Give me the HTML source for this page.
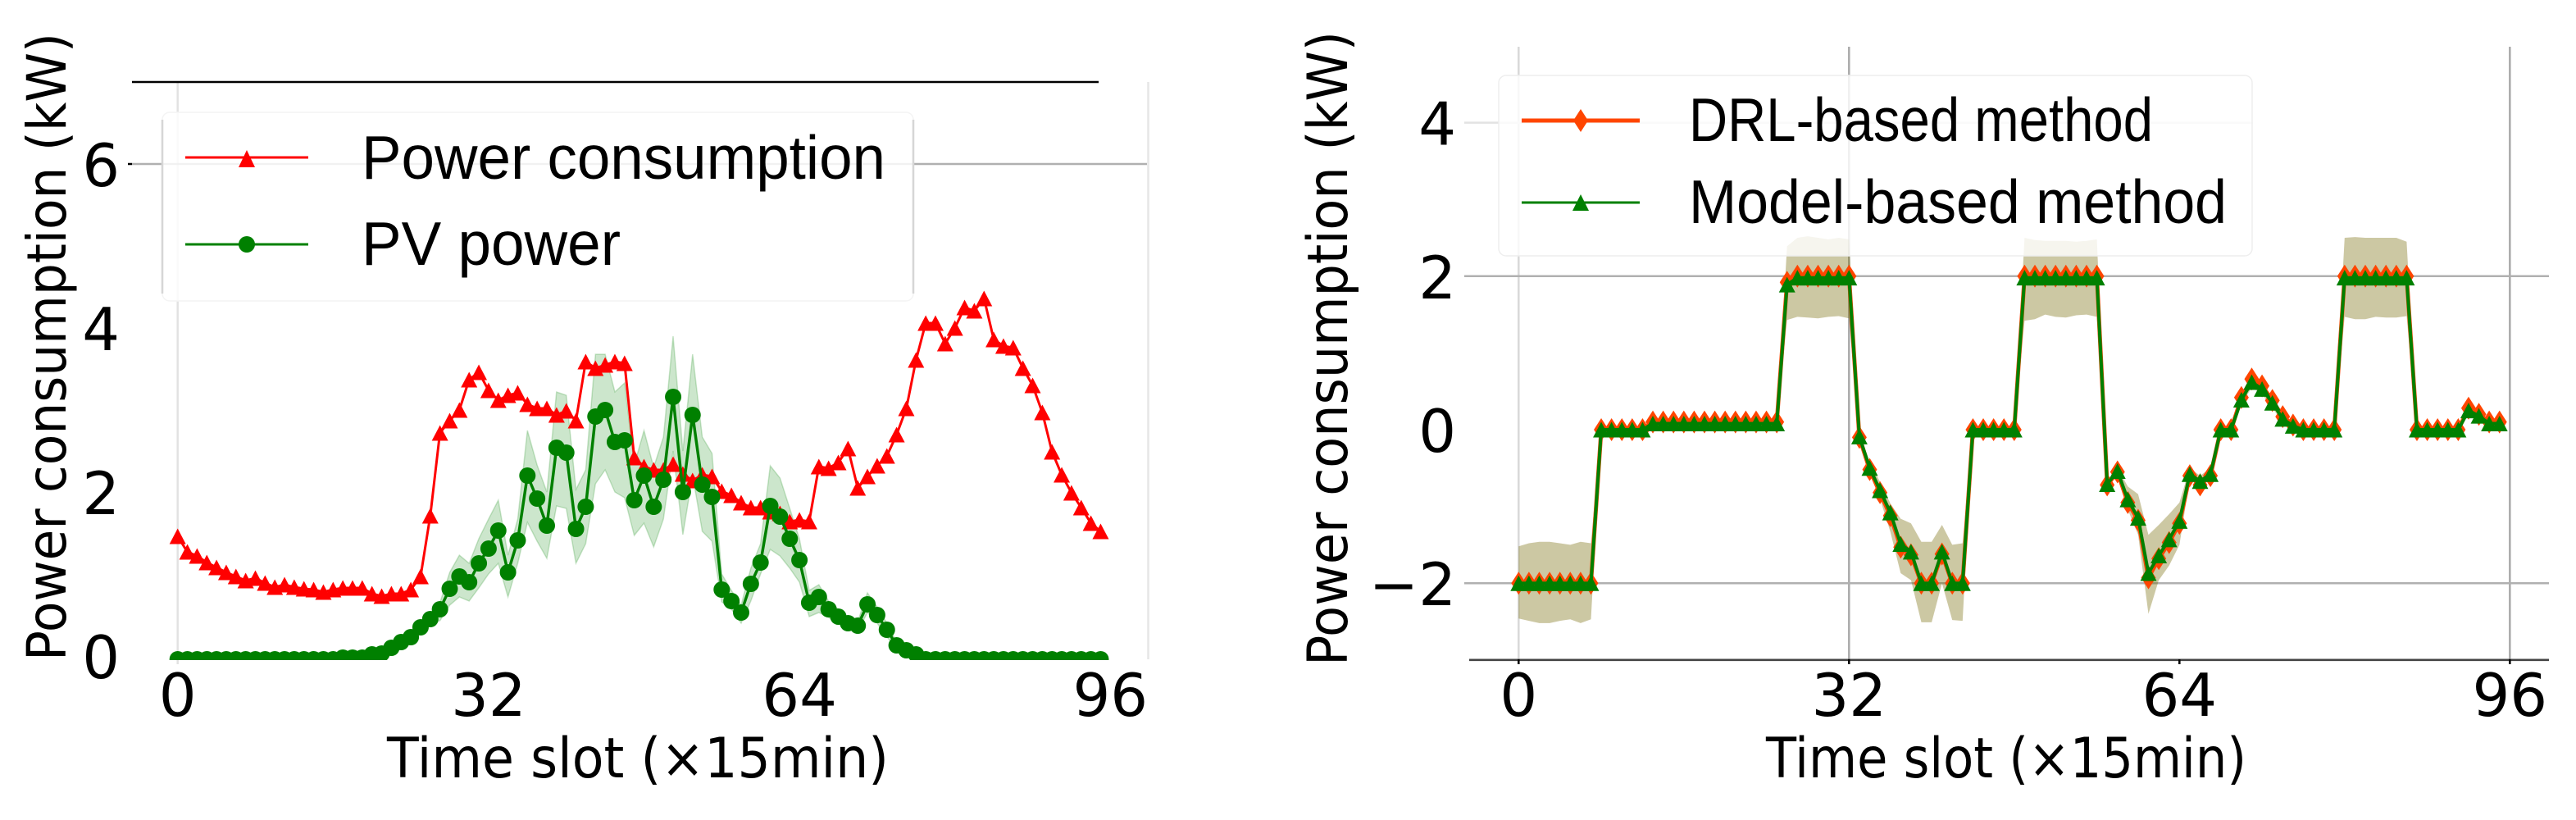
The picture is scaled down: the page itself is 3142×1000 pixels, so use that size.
<!DOCTYPE html>
<html lang="en">
<head>
<meta charset="utf-8">
<title>Power consumption and PV power by time slot</title>
<style>
html,body{margin:0;padding:0;background:#fff;width:3142px;height:1000px;overflow:hidden}
svg{display:block}
.dj{font-family:"DejaVu Sans","Liberation Sans",sans-serif;fill:#000}
.ls{font-family:"Liberation Sans",sans-serif;fill:#000;font-size:75px}
</style>
</head>
<body>
<svg id="fig" xmlns="http://www.w3.org/2000/svg" width="3142" height="1000" viewBox="0 0 3142 1000">
  <defs>
    <clipPath id="left-plot-clip"><rect x="150" y="90" width="1260" height="715"/></clipPath>
  </defs>
  <g id="left-under"></g>
  <g id="right-under"></g>

  <g>
    <rect x="198" y="137" width="916" height="230" rx="9" fill="#fff" fill-opacity="0.82" stroke="#f4f4f4" stroke-width="1.5"/>
    <line x1="198" y1="146" x2="198" y2="358" stroke="#d6d6d6" stroke-width="2.5"/>
    <line x1="1114" y1="146" x2="1114" y2="358" stroke="#d6d6d6" stroke-width="2.5"/>
    <line x1="226" y1="192" x2="376" y2="192" stroke="#ff0000" stroke-width="3"/>
    <polygon points="301,183 311,204 291,204" fill="#ff0000"/>
    <text class="ls" x="441" y="218" textLength="639" lengthAdjust="spacingAndGlyphs">Power consumption</text>
    <line x1="226" y1="298" x2="376" y2="298" stroke="#008000" stroke-width="3"/>
    <circle cx="301" cy="298" r="10" fill="#008000"/>
    <text class="ls" x="441" y="323" textLength="316" lengthAdjust="spacingAndGlyphs">PV power</text>
  </g>

  <g>
    <rect x="1828" y="92" width="919" height="220" rx="9" fill="#fff" fill-opacity="0.82" stroke="#eeeeee" stroke-width="1.5"/>
    <line x1="1856" y1="147" x2="2000" y2="147" stroke="#ff4500" stroke-width="5"/>
    <polygon points="1928,133 1937,147 1928,161 1919,147" fill="#ff4500"/>
    <text class="ls" x="2060" y="172" textLength="566" lengthAdjust="spacingAndGlyphs">DRL-based method</text>
    <line x1="1856" y1="247" x2="2000" y2="247" stroke="#008000" stroke-width="3"/>
    <polygon points="1928,237 1938,257 1918,257" fill="#008000"/>
    <text class="ls" x="2060" y="272" textLength="656" lengthAdjust="spacingAndGlyphs">Model-based method</text>
  </g>

  <text class="dj" x="472" y="948" font-size="68" textLength="612" lengthAdjust="spacingAndGlyphs">Time slot (×15min)</text>
  <text class="dj" transform="translate(80,806) rotate(-90)" x="0" y="0" font-size="66" textLength="766" lengthAdjust="spacingAndGlyphs">Power consumption (kW)</text>
  <text class="dj" x="2154" y="948" font-size="68" textLength="586" lengthAdjust="spacingAndGlyphs">Time slot (×15min)</text>
  <text class="dj" transform="translate(1643,812) rotate(-90)" x="0" y="0" font-size="68" textLength="774" lengthAdjust="spacingAndGlyphs">Power consumption (kW)</text>
</svg>

<script>
const slotTicks = [0, 32, 64, 96];
const leftYTicks = [0, 2, 4, 6];
const rightYTicks = [-2, 0, 2, 4];

const powerConsumption = [
  1.46,1.27,1.22,1.14,1.08,1.02,.97,.92,.95,.89,
  .84,.87,.84,.82,.81,.78,.81,.83,.83,.83,
  .76,.73,.76,.76,.81,.97,1.71,2.72,2.87,3.0,
  3.37,3.46,3.24,3.12,3.18,3.21,3.07,3.02,3.02,2.94,
  2.99,2.87,3.59,3.51,3.55,3.59,3.57,2.42,2.31,2.27,
  2.27,2.34,2.22,2.14,2.21,2.19,2.01,1.96,1.87,1.81,
  1.81,1.76,1.74,1.64,1.66,1.64,2.31,2.29,2.36,2.53,
  2.05,2.19,2.32,2.44,2.7,3.02,3.61,4.06,4.06,3.81,
  4.0,4.25,4.21,4.36,3.86,3.78,3.76,3.51,3.3,2.97,
  2.49,2.21,1.99,1.81,1.62,1.52];

const pvPower = [
  -.04,-.04,-.04,-.04,-.04,-.04,-.04,-.04,-.04,-.04,
  -.04,-.04,-.04,-.04,-.04,-.04,-.04,-.02,-.02,-.02,
  .02,.03,.1,.17,.23,.35,.45,.57,.82,.97,
  .9,1.13,1.31,1.53,1.02,1.41,2.2,1.92,1.59,2.54,
  2.48,1.55,1.82,2.92,3.0,2.61,2.63,1.9,2.2,1.82,
  2.15,3.16,2.0,2.94,2.09,1.94,.81,.67,.53,.88,
  1.14,1.83,1.7,1.43,1.17,.65,.72,.57,.48,.4,
  .37,.63,.5,.32,.13,.07,.02,-.04,-.04,-.04,
  -.04,-.04,-.04,-.04,-.04,-.04,-.04,-.04,-.04,-.04,
  -.04,-.04,-.04,-.04,-.04,-.04];

const pvUpper = [
  0,0,0,0,0,0,0,0,0,0,
  0,0,0,0,0,0,0,0,0,0,
  .02,.03,.11,.18,.25,.38,.5,.65,1.02,1.23,
  1.13,1.43,1.67,1.9,1.23,1.67,2.75,2.33,2.0,3.22,
  3.18,2.03,2.27,3.68,3.68,3.22,3.33,2.33,2.75,2.3,
  2.67,3.9,2.5,3.68,2.67,2.47,1.0,.8,.62,1.07,
  1.37,2.32,2.17,1.8,1.43,.8,.87,.67,.57,.47,
  .42,.77,.6,.4,.17,.08,.02,0,0,0,
  0,0,0,0,0,0,0,0,0,0,
  0,0,0,0,0,0];

const pvLower = [
  0,0,0,0,0,0,0,0,0,0,
  0,0,0,0,0,0,0,0,0,0,
  .02,.03,.09,.16,.2,.32,.4,.43,.62,.72,
  .67,.83,1.0,1.13,.72,1.13,1.63,1.4,1.19,1.83,
  1.8,1.13,1.37,2.1,2.27,2.0,1.93,1.47,1.62,1.33,
  1.67,2.5,1.48,2.2,1.52,1.4,.66,.57,.4,.67,
  1.0,1.3,1.22,1.07,.9,.48,.53,.47,.4,.33,
  .3,.53,.4,.23,.1,.06,.01,0,0,0,
  0,0,0,0,0,0,0,0,0,0,
  0,0,0,0,0,0];

const drlMethod = [
  -2,-2,-2,-2,-2,-2,-2,-2,0,0,
  0,0,0,.1,.1,.1,.1,.1,.1,.1,
  .1,.1,.1,.1,.1,.1,1.92,2,2,2,
  2,2,2,-.1,-.52,-.82,-1.12,-1.53,-1.63,-2,
  -2,-1.62,-2,-2,0,0,0,0,0,2,
  2,2,2,2,2,2,2,-.72,-.55,-.95,
  -1.18,-1.93,-1.68,-1.47,-1.22,-.6,-.72,-.6,0,0,
  .42,.66,.57,.38,.17,.06,0,0,0,0,
  2,2,2,2,2,2,2,0,0,0,
  0,0,.28,.2,.1,.1];

const modelMethod = [
  -2,-2,-2,-2,-2,-2,-2,-2,0,0,
  0,0,0,.08,.08,.08,.08,.08,.08,.08,
  .08,.08,.08,.08,.08,.08,1.89,1.98,1.98,1.98,
  1.98,1.98,1.98,-.09,-.5,-.79,-1.08,-1.49,-1.59,-2,
  -2,-1.59,-2,-2,0,0,0,0,0,1.98,
  1.98,1.98,1.98,1.98,1.98,1.98,1.98,-.71,-.54,-.91,
  -1.15,-1.87,-1.64,-1.43,-1.19,-.58,-.67,-.58,0,0,
  .39,.62,.53,.35,.14,.05,0,0,0,0,
  1.98,1.98,1.98,1.98,1.98,1.98,1.98,0,0,0,
  0,0,.25,.18,.08,.08];

const methodUpper = [
  -1.52,-1.48,-1.46,-1.46,-1.48,-1.5,-1.46,-1.48,.02,.02,
  .02,.02,.02,.1,.1,.1,.1,.1,.1,.1,
  .1,.1,.1,.1,.1,.1,2.39,2.5,2.52,2.5,
  2.48,2.5,2.48,-.04,-.42,-.68,-.96,-1.16,-1.22,-1.46,
  -1.46,-1.24,-1.5,-1.48,.02,.02,.02,.02,.02,2.5,
  2.47,2.46,2.46,2.46,2.45,2.46,2.48,-.66,-.5,-.74,
  -.84,-1.37,-1.24,-1.1,-.95,-.5,-.6,-.5,.02,.02,
  .43,.72,.63,.4,.18,.07,.02,.02,.02,.02,
  2.5,2.51,2.5,2.5,2.5,2.5,2.45,.02,.02,.02,
  .02,.02,.28,.21,.1,.1];

const methodLower = [
  -2.46,-2.49,-2.52,-2.52,-2.49,-2.47,-2.52,-2.47,-.02,-.02,
  -.02,-.02,-.02,.07,.07,.07,.07,.07,.07,.07,
  .07,.07,.07,.07,.07,.07,1.43,1.47,1.46,1.45,
  1.47,1.48,1.45,-.14,-.58,-.9,-1.33,-1.87,-1.96,-2.51,
  -2.51,-2.0,-2.48,-2.49,-.02,-.02,-.02,-.02,-.02,1.42,
  1.44,1.5,1.47,1.46,1.49,1.5,1.47,-.76,-.58,-1.04,
  -1.37,-2.4,-1.96,-1.77,-1.5,-.65,-.75,-.65,-.02,-.02,
  .33,.55,.46,.28,.1,.03,-.02,-.02,-.02,-.02,
  1.47,1.44,1.44,1.47,1.46,1.46,1.48,-.02,-.02,-.02,
  -.02,-.02,.22,.15,.06,.06];

const NS = 'http://www.w3.org/2000/svg';
function xLeft(i){ return 216.7 + 11.85 * i; }
function yLeft(v){ return 800 - 100 * v; }
function xRight(i){ return 1852.3 + 12.594 * i; }
function yRight(v){ return 524 - 93.6 * v; }

function make(parent, tag, attrs, text){
  const el = document.createElementNS(NS, tag);
  for (const k in attrs) el.setAttribute(k, attrs[k]);
  if (text !== undefined) el.textContent = text;
  parent.appendChild(el);
  return el;
}
function linePoints(values, fx, fy){
  return values.map((v, i) => fx(i).toFixed(1) + ',' + fy(v).toFixed(1)).join(' ');
}
function bandPoints(upper, lower, fx, fy){
  const a = upper.map((v, i) => fx(i).toFixed(1) + ',' + fy(v).toFixed(1));
  const b = lower.map((v, i) => fx(i).toFixed(1) + ',' + fy(v).toFixed(1)).reverse();
  return a.concat(b).join(' ');
}
function triangle(x, y){
  const h = 9.5;
  return (x) + ',' + (y - h) + ' ' + (x + h + .5) + ',' + (y + h) + ' ' + (x - h - .5) + ',' + (y + h);
}
function diamond(x, y){
  return x + ',' + (y - 14) + ' ' + (x + 9) + ',' + y + ' ' + x + ',' + (y + 14) + ' ' + (x - 9) + ',' + y;
}

const L = document.getElementById('left-under');
const R = document.getElementById('right-under');
let el;

/* ---------- left chart frame ---------- */
el = make(L, 'line', {x1:216.7, y1:100, x2:216.7, y2:810, stroke:'#e2e2e2', 'stroke-width':2.5});


el = make(L, 'line', {x1:1400.5, y1:100, x2:1400.5, y2:804, stroke:'#e6e6e6', 'stroke-width':2.5});


el = make(L, 'line', {x1:161, y1:yLeft(6), x2:1399, y2:yLeft(6), stroke:'#b0b0b0', 'stroke-width':2.6});


el = make(L, 'line', {x1:156, y1:yLeft(6), x2:161, y2:yLeft(6), stroke:'#000', 'stroke-width':2.5});


el = make(L, 'line', {x1:161, y1:yLeft(7), x2:1340, y2:yLeft(7), stroke:'#000', 'stroke-width':2.6});



slotTicks.forEach(t => {
  const lab = make(L, 'text', {class:'dj', x:xLeft(t), y:873, 'font-size':72, 'text-anchor':'middle'}, String(t));
  
  
});
leftYTicks.forEach(t => {
  const lab = make(L, 'text', {class:'dj', x:146, y:yLeft(t) + 27, 'font-size':72, 'text-anchor':'end'}, String(t));
  
  
});

/* ---------- left chart series ---------- */
el = make(L, 'polygon', {points:bandPoints(pvUpper, pvLower, xLeft, yLeft), fill:'#008000', 'fill-opacity':.2, stroke:'#008000', 'stroke-opacity':.2, 'stroke-width':1.5});



el = make(L, 'polyline', {points:linePoints(powerConsumption, xLeft, yLeft), fill:'none', stroke:'#ff0000', 'stroke-width':3});


powerConsumption.forEach((v, i) => {
  const m = make(L, 'polygon', {points:triangle(xLeft(i), yLeft(v)), fill:'#ff0000'});
  
  
});

const pvGroup = make(L, 'g', {'clip-path':'url(#left-plot-clip)'});


el = make(pvGroup, 'polyline', {points:linePoints(pvPower, xLeft, yLeft), fill:'none', stroke:'#008000', 'stroke-width':3.5});


pvPower.forEach((v, i) => {
  const m = make(pvGroup, 'circle', {cx:xLeft(i), cy:yLeft(v), r:10, fill:'#008000'});
  
  
});

/* ---------- right chart frame ---------- */
el = make(R, 'line', {x1:xRight(0), y1:57, x2:xRight(0), y2:804, stroke:'#d8d8d8', 'stroke-width':2.5});


el = make(R, 'line', {x1:xRight(32), y1:57, x2:xRight(32), y2:804, stroke:'#aaaaaa', 'stroke-width':2.5});


el = make(R, 'line', {x1:xRight(96), y1:57, x2:xRight(96), y2:804, stroke:'#aaaaaa', 'stroke-width':2.5});


el = make(R, 'line', {x1:1786, y1:yRight(4), x2:2747, y2:yRight(4), stroke:'#e2e2e2', 'stroke-width':2.5});


el = make(R, 'line', {x1:1786, y1:yRight(2), x2:3109, y2:yRight(2), stroke:'#b0b0b0', 'stroke-width':2.5});


el = make(R, 'line', {x1:1786, y1:yRight(-2), x2:3109, y2:yRight(-2), stroke:'#b0b0b0', 'stroke-width':2.5});


el = make(R, 'line', {x1:1792, y1:yRight(-3), x2:3109, y2:yRight(-3), stroke:'#444', 'stroke-width':2.6});



slotTicks.forEach(t => {
  const tick = make(R, 'line', {x1:xRight(t), y1:804, x2:xRight(t), y2:810, stroke:'#000', 'stroke-width':2.5});
  
  
  const lab = make(R, 'text', {class:'dj', x:xRight(t), y:873, 'font-size':72, 'text-anchor':'middle'}, String(t));
  
  
});
rightYTicks.forEach(t => {
  const lab = make(R, 'text', {class:'dj', x:1776, y:yRight(t) + 27, 'font-size':72, 'text-anchor':'end'}, t < 0 ? '\u2212' + Math.abs(t) : String(t));
  
  
});

/* ---------- right chart series ---------- */
el = make(R, 'polygon', {points:bandPoints(methodUpper, methodLower, xRight, yRight), fill:'#ff4500', 'fill-opacity':.2});


el = make(R, 'polygon', {points:bandPoints(methodUpper, methodLower, xRight, yRight), fill:'#008000', 'fill-opacity':.2});



el = make(R, 'polyline', {points:linePoints(drlMethod, xRight, yRight), fill:'none', stroke:'#ff4500', 'stroke-width':5});


drlMethod.forEach((v, i) => {
  const m = make(R, 'polygon', {points:diamond(xRight(i), yRight(v)), fill:'#ff4500'});
  
  
});

el = make(R, 'polyline', {points:linePoints(modelMethod, xRight, yRight), fill:'none', stroke:'#008000', 'stroke-width':4});


modelMethod.forEach((v, i) => {
  const m = make(R, 'polygon', {points:triangle(xRight(i), yRight(v)), fill:'#008000'});
  
  
});
</script>
</body>
</html>
